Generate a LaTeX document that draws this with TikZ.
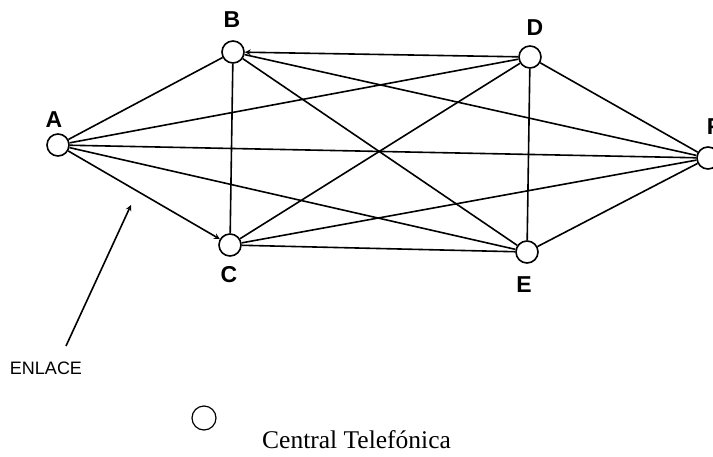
\documentclass[tikz,border=0pt]{standalone}
\usepackage{fontspec}
\setmainfont{Liberation Serif}
\newfontfamily\lblfont{Liberation Sans}
\usetikzlibrary{arrows,positioning}
\tikzset{central/.style={circle,draw,line width=1.6pt,fill=white,minimum size=22pt,inner sep=0pt},
         lbl/.style={font=\lblfont\bfseries\fontsize{23}{26}\selectfont,inner sep=0pt},
         enlace/.style={line width=1.6pt}}

\begin{document}
\begin{tikzpicture}[>=stealth,x=1pt,y=-1pt]
        \useasboundingbox (0,0) rectangle (713,456);

        \node[central] (A) at (58,145) {};
        \node[central] (B) at (233,52) {};
        \node[central] (C) at (230,245) {};
        \node[central] (D) at (530,57) {};
        \node[central] (E) at (527,252) {};
        \node[central] (F) at (708,158) {};

        \node[lbl] (lA) at (54,120) {A};
        \node[lbl] (lB) at (232,20) {B};
        \node[lbl] (lC) at (229,275) {C};
        \node[lbl] (lD) at (535,28) {D};
        \node[lbl] (lE) at (524,285) {E};
        \node[lbl] (lF) at (714,127) {F};

        \draw [enlace] (A) to (B);
        \draw [enlace,->] (A) to (C);
        \draw [enlace] (A) to (D);
        \draw [enlace] (A) to (E);
        \draw [enlace] (A) to (F);
        \draw [enlace] (B) to (C);
        \draw [enlace,<-] (B) to (D);
        \draw [enlace] (B) to (E);
        \draw [enlace] (B) to (F);
        \draw [enlace] (C) to (D);
        \draw [enlace] (C) to (E);
        \draw [enlace] (C) to (F);
        \draw [enlace] (D) to (E);
        \draw [enlace] (D) to (F);
        \draw [enlace] (E) to (F);

        \node[font=\lblfont\fontsize{18}{20}\selectfont,inner sep=0pt] (txt) at (46,368) {ENLACE};
        \coordinate (tail) at (66,346);
        \coordinate (tip) at (131,205);
        \draw [enlace,->] (tail) to (tip);

        \node[central,minimum size=24pt,line width=1.2pt] (leg) at (204,418) {};
        \node[font=\fontsize{25.5}{30}\selectfont,anchor=base west,inner sep=0pt] (legtxt) at (262,448) {Central Telefónica};
    \end{tikzpicture}
\end{document}
